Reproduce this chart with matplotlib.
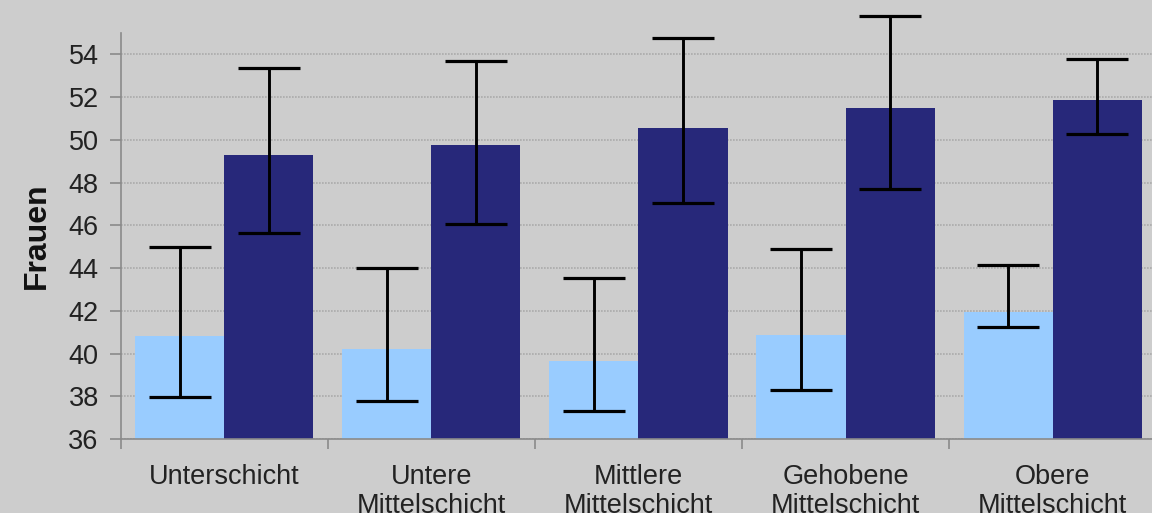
import matplotlib.pyplot as plt
import numpy as np

plt.rcParams['font.family'] = ['Liberation Sans', 'DejaVu Sans']

categories = ['Unterschicht', 'Untere\nMittelschicht', 'Mittlere\nMittelschicht',
              'Gehobene\nMittelschicht', 'Obere\nMittelschicht']

# light bars (first series) and dark bars (second series)
light_vals = [40.8, 40.2, 39.65, 40.85, 41.95]
light_low = [37.95, 37.8, 37.3, 38.3, 41.25]
light_high = [45.0, 44.0, 43.55, 44.9, 44.15]

dark_vals = [49.3, 49.75, 50.55, 51.5, 51.85]
dark_low = [45.65, 46.05, 47.05, 47.7, 50.25]
dark_high = [53.35, 53.7, 54.75, 55.8, 53.8]

yticks = [36, 38, 40, 42, 44, 46, 48, 50, 52, 54]

bg = '#cdcdcd'
light_col = '#99ccff'
dark_col = '#27287a'

fig = plt.figure(figsize=(11.52, 5.13), dpi=100, facecolor=bg)
ax = fig.add_axes([0.105, 0.1442, 0.8985, 0.7915], facecolor=bg)

x = np.arange(len(categories))
w = 0.43

lv = np.array(light_vals)
dv = np.array(dark_vals)
light_err = [lv - np.array(light_low), np.array(light_high) - lv]
dark_err = [dv - np.array(dark_low), np.array(dark_high) - dv]

ax.bar(x - w / 2, lv - 36, w, bottom=36, color=light_col, zorder=2)
ax.bar(x + w / 2, dv - 36, w, bottom=36, color=dark_col, zorder=2)

for xs, vals, err in [(x - w / 2, lv, light_err), (x + w / 2, dv, dark_err)]:
    eb = ax.errorbar(xs, vals, yerr=err, fmt='none', ecolor='black',
                     elinewidth=2.1, capsize=22, capthick=2.3, zorder=3)
    for artist in eb.lines[1] + eb.lines[2]:
        artist.set_clip_on(False)

ax.set_xlim(-0.5, len(categories) - 0.5)
ax.set_ylim(36, 55)
ax.set_yticks(yticks)
ax.yaxis.grid(True, linestyle=(0, (1.0, 0.8)), color='#ababab', linewidth=1.2, zorder=1)

ax.set_xticks(np.arange(len(categories) + 1) - 0.5)
ax.set_xticklabels([])
ax.set_xticks(x, minor=True)
ax.set_xticklabels(categories, minor=True, fontsize=19.5, color='#222222', linespacing=1.15)
ax.tick_params(axis='x', which='minor', length=0, pad=18)
ax.tick_params(axis='x', which='major', length=7, color='#8a8a8a', width=1.2)
ax.tick_params(axis='y', length=8, color='#8a8a8a', width=1.2, labelsize=19.5,
               labelcolor='#222222', pad=8)

for s in ['top', 'right']:
    ax.spines[s].set_visible(False)
for s in ['left', 'bottom']:
    ax.spines[s].set_color('#8a8a8a')
    ax.spines[s].set_linewidth(1.2)

ax.set_ylabel('Frauen', fontsize=23, fontweight='bold', color='#111111', labelpad=12)

fig.savefig('out.png', dpi=100, facecolor=bg)
